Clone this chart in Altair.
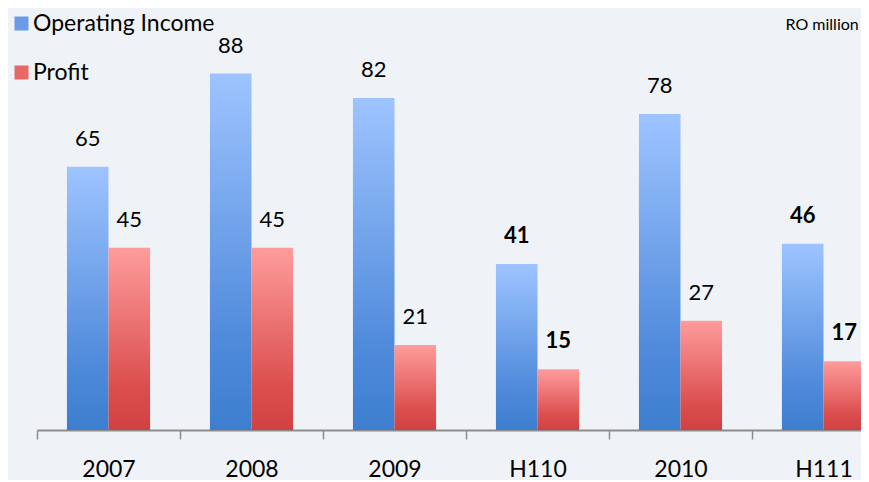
import altair as alt
import pandas as pd

categories = ["2007", "2008", "2009", "H110", "2010", "H111"]
operating_income = [65, 88, 82, 41, 78, 46]
profit = [45, 45, 21, 15, 27, 17]
bold_groups = ["H110", "H111"]
series_names = ["Operating Income", "Profit"]

rows = []
for c, oi, p in zip(categories, operating_income, profit):
    rows.append({"cat": c, "series": "Operating Income", "value": oi,
                 "bold": c in bold_groups})
    rows.append({"cat": c, "series": "Profit", "value": p,
                 "bold": c in bold_groups})
df = pd.DataFrame(rows)

FONT = "Lato"
blue_grad = {"gradient": "linear", "x1": 0, "y1": 0, "x2": 0, "y2": 1,
             "stops": [{"offset": 0, "color": "#9EC4FF"},
                       {"offset": 0.75, "color": "#4F8ADB"},
                       {"offset": 1, "color": "#3D7ECF"}]}
red_grad = {"gradient": "linear", "x1": 0, "y1": 0, "x2": 0, "y2": 1,
            "stops": [{"offset": 0, "color": "#FF9C9C"},
                      {"offset": 0.75, "color": "#DC4F4F"},
                      {"offset": 1, "color": "#D24141"}]}

x_enc = alt.X("cat:N", sort=categories,
              scale=alt.Scale(domain=categories, range=[0, 858],
                              paddingInner=0, paddingOuter=0),
              axis=alt.Axis(title=None, labelAngle=0, labelFontSize=23,
                            labelFont=FONT, labelColor="#000000",
                            labelPadding=19, tickBand="extent", ticks=True,
                            tickSize=9, tickColor="#8C8C8C", tickWidth=1.5,
                            domainColor="#8C8C8C", domainWidth=2, grid=False))
xoff = alt.XOffset("series:N",
                   scale=alt.Scale(domain=series_names, paddingInner=0,
                                   paddingOuter=0.72))
y_enc = alt.Y("value:Q", scale=alt.Scale(domain=[0, 100], nice=False),
              axis=None)

base = alt.Chart(df)

bars_oi = base.transform_filter(alt.datum.series == "Operating Income").mark_bar(
    fill=blue_grad).encode(x=x_enc, xOffset=xoff, y=y_enc)
bars_pr = base.transform_filter(alt.datum.series == "Profit").mark_bar(
    fill=red_grad).encode(x=x_enc, xOffset=xoff, y=y_enc)

labels_normal = base.transform_filter("!datum.bold").mark_text(
    dy=-28, fontSize=22, font=FONT, color="#000000").encode(
    x=x_enc, xOffset=xoff, y=y_enc, text="value:Q")
labels_bold = base.transform_filter("datum.bold").mark_text(
    dy=-28, fontSize=22, font=FONT, color="#000000", fontWeight="bold").encode(
    x=x_enc, xOffset=xoff, y=y_enc, text="value:Q")

legend_layer = base.mark_square(size=0, opacity=0).encode(
    x=x_enc, y=y_enc,
    color=alt.Color("series:N",
                    scale=alt.Scale(domain=series_names,
                                    range=["#6A9BE8", "#E86868"]),
                    legend=alt.Legend(title=None, orient="none", legendX=-27,
                                      legendY=-13, direction="vertical",
                                      symbolType="square", symbolSize=196,
                                      symbolOpacity=1, symbolStrokeWidth=0,
                                      labelFontSize=23, labelFont=FONT,
                                      labelColor="#000000", labelOffset=0,
                                      labelLimit=400,
                                      rowPadding=25, padding=0)))

chart = alt.layer(bars_oi, bars_pr, labels_normal, labels_bold, legend_layer).properties(
    width=824, height=405,
    autosize=alt.AutoSizeParams(type="none"),
    padding={"left": 29, "top": 17, "right": 0, "bottom": 50},
    background="#EFF3F7",
    title=alt.TitleParams("RO million", anchor="end", align="right",
                          fontSize=16, fontWeight="normal", font=FONT,
                          color="#000000", offset=-12, dx=-37, dy=9),
).configure_view(stroke=None)

chart.save("out.html", embed_options={"renderer": "svg", "actions": False})
